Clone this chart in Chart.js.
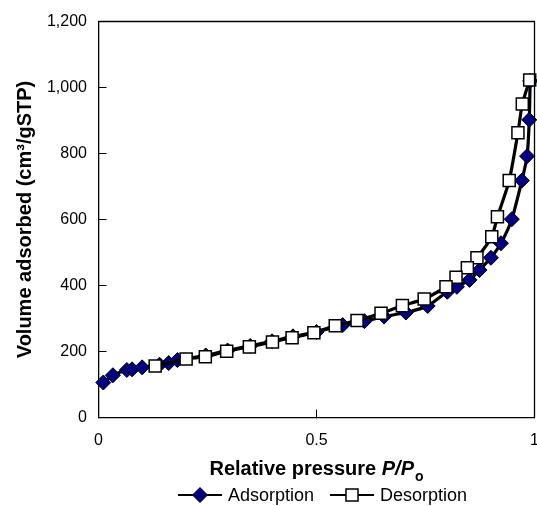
<!DOCTYPE html>
<html>
<head>
<meta charset="utf-8">
<script src="https://cdn.jsdelivr.net/npm/chart.js@4/dist/chart.umd.min.js"></script>
<style>
  html, body { margin: 0; padding: 0; background: #fff; }
  #wrap { width: 537px; height: 506px; }
</style>
</head>
<body>
<div id="wrap"><canvas id="isoChart" width="537" height="506"></canvas></div>
<script>
// relative pressure P/Po and adsorbed volume (cm3/gSTP)
var adsorptionP = [0.011, 0.033, 0.065, 0.077, 0.100, 0.140, 0.161, 0.181, 0.246, 0.296, 0.348, 0.398, 0.446, 0.500,
                   0.560, 0.610, 0.655, 0.705, 0.755, 0.800, 0.822, 0.851, 0.874, 0.900, 0.923, 0.948, 0.971, 0.983, 0.988, 0.990];
var adsorptionV = [106, 128, 144, 146, 152, 160, 165, 174, 188, 203, 217, 231, 246, 259,
                   280, 292, 306, 318, 338, 381, 396, 417, 447, 484, 528, 601, 718, 792, 902, 1020];

var desorptionP = [0.989, 0.972, 0.962, 0.942, 0.915, 0.902, 0.868, 0.846, 0.820, 0.797, 0.747, 0.697,
                   0.648, 0.593, 0.543, 0.494, 0.444, 0.399, 0.346, 0.294, 0.245, 0.201, 0.130];
var desorptionV = [1023, 950, 863, 718, 608, 548, 484, 454, 425, 396, 359, 339,
                   316, 294, 278, 257, 242, 229, 214, 201, 184, 177, 156];

var seriesNames = ["Adsorption", "Desorption"];
var xTitle = ["Relative pressure ", "P/P", "o"];
var yTitle = "Volume adsorbed (cm\u00B3/gSTP)";

var FONT = "'Liberation Sans', Arial, sans-serif";

function toPoints(xs, ys) {
    return xs.map(function (x, i) { return {x: x, y: ys[i]}; });
}

// box around plot, x axis title and legend (line + marker like the original)
var extras = {
    id: 'extras',
    afterDraw: function (chart) {
        var ctx = chart.ctx;
        var a = chart.chartArea;
        ctx.save();
        ctx.strokeStyle = '#000';
        ctx.lineWidth = 1.3;
        ctx.beginPath();
        ctx.moveTo(a.left, a.top);
        ctx.lineTo(a.right, a.top);
        ctx.lineTo(a.right, a.bottom);
        ctx.stroke();

        // x title with italic P/P and subscript o
        var mid = (a.left + a.right) / 2;
        var base = 475;
        ctx.fillStyle = '#000';
        ctx.textBaseline = 'alphabetic';
        ctx.font = 'bold 20px ' + FONT;
        var w1 = ctx.measureText(xTitle[0]).width;
        ctx.font = 'italic bold 20px ' + FONT;
        var w2 = ctx.measureText(xTitle[1]).width;
        ctx.font = 'bold 14px ' + FONT;
        var w3 = ctx.measureText(xTitle[2]).width;
        var x = mid - (w1 + w2 + w3 + 1) / 2;
        ctx.font = 'bold 20px ' + FONT;
        ctx.fillText(xTitle[0], x, base);
        ctx.font = 'italic bold 20px ' + FONT;
        ctx.fillText(xTitle[1], x + w1, base);
        ctx.font = 'bold 14px ' + FONT;
        ctx.fillText(xTitle[2], x + w1 + w2 + 1, base + 6);

        // legend
        var ly = 495;
        var starts = [178, 330];
        ctx.font = '18px ' + FONT;
        ctx.textBaseline = 'middle';
        chart.data.datasets.forEach(function (ds, i) {
            var lx = starts[i];
            ctx.strokeStyle = '#000';
            ctx.lineWidth = 2;
            ctx.beginPath();
            ctx.moveTo(lx, ly);
            ctx.lineTo(lx + 44, ly);
            ctx.stroke();
            ctx.fillStyle = ds.pointBackgroundColor;
            ctx.strokeStyle = ds.pointBorderColor;
            ctx.lineWidth = ds.pointBorderWidth;
            Chart.helpers.drawPoint(ctx, {
                pointStyle: ds.pointStyle, radius: ds.pointRadius,
                rotation: 0, borderWidth: ds.pointBorderWidth
            }, lx + 22, ly);
            ctx.fillStyle = '#000';
            ctx.fillText(ds.label, lx + 50, ly + 1);
        });
        ctx.restore();
    }
};

var ctxI = document.getElementById("isoChart").getContext('2d');
var isoChart = new Chart(ctxI, {
    type: 'scatter',
    data: {
        datasets: [{
                label: seriesNames[0],
                data: toPoints(adsorptionP, adsorptionV),
                showLine: true,
                tension: 0.2,
                borderColor: '#000',
                borderWidth: 3.2,
                pointStyle: 'rectRot',
                pointRadius: 7.5,
                pointBackgroundColor: '#000080',
                pointBorderColor: '#000',
                pointBorderWidth: 1,
                order: 2
            }, {
                label: seriesNames[1],
                data: toPoints(desorptionP, desorptionV),
                showLine: true,
                tension: 0.2,
                borderColor: '#000',
                borderWidth: 3.2,
                pointStyle: 'rect',
                pointRadius: 8.5,
                pointBackgroundColor: '#fff',
                pointBorderColor: '#000',
                pointBorderWidth: 1.5,
                order: 1
            }
        ]
    },
    options: {
        responsive: false,
        animation: false,
        clip: false,
        layout: {autoPadding: false, padding: {top: 21.5, right: 2.5, left: 0, bottom: 0}},
        plugins: {
            legend: {display: false},
            tooltip: {enabled: false}
        },
        scales: {
            x: {
                type: 'linear',
                min: 0,
                max: 1,
                ticks: {
                    stepSize: 0.5, color: '#000', padding: 21.5, font: {family: FONT, size: 16},
                    callback: function (v) { return String(v); }
                },
                grid: {drawOnChartArea: false, drawTicks: true, tickLength: -8, color: '#000', lineWidth: 1},
                border: {color: '#000', width: 1.3},
                afterFit: function (s) { s.height = 88.5; s.paddingLeft = 0; s.paddingRight = 0; }
            },
            y: {
                min: 0,
                max: 1200,
                ticks: {stepSize: 200, color: '#000', padding: 19.5, font: {family: FONT, size: 16}},
                grid: {drawOnChartArea: false, drawTicks: true, tickLength: -8, color: '#000', lineWidth: 1},
                border: {color: '#000', width: 1.3},
                title: {display: true, text: yTitle, color: '#000', padding: {top: 13, bottom: 0},
                        font: {family: FONT, size: 20, weight: 'bold'}},
                afterFit: function (s) { s.width = 98.5; s.paddingTop = 0; s.paddingBottom = 0; }
            }
        }
    },
    plugins: [extras]
});
</script>
</body>
</html>
